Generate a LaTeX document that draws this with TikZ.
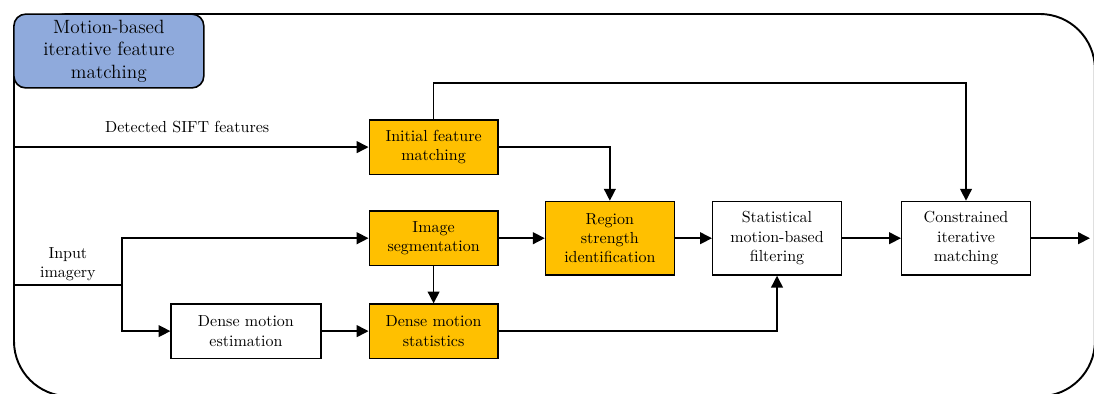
\documentclass[tikz,border=0pt]{standalone}
\usepackage{tikz}
\usetikzlibrary{
  arrows.meta,
  positioning,
  calc,
}
\definecolor{keyStep}{HTML}{FFC000}
\definecolor{titleBg}{HTML}{8FAADC}
\tikzset{
  stepbox/.style={
    rectangle, draw=black, line width=0.8pt, fill=white,
    minimum width=2.83cm, minimum height=1.19cm, inner sep=2pt,
    align=center, font=\normalsize,
  },
  keybox/.style={
    stepbox, fill=keyStep,
  },
  tallbox/.style={
    minimum height=1.62cm,
  },
  titlebox/.style={
    rectangle, rounded corners=2.6mm, draw=black, line width=1pt,
    fill=titleBg, minimum width=4.17cm, minimum height=1.62cm,
    inner sep=2pt, align=center, font=\large,
  },
  flowArrow/.style={
    -{Triangle[length=2.6mm,width=2.6mm]}, line width=0.9pt,
  },
}

\begin{document}
\begin{tikzpicture}[every node/.style={align=center}]

\useasboundingbox (0,0) rectangle (24.02,-8.65);

% outer frame, runs past the page on the right and bottom
\draw[line width=1.2pt, rounded corners=1.21cm] (0.307,-0.307) rectangle (24.04,-8.70);
\node[titlebox] (title) at (2.39,-1.12) {Motion-based\\iterative feature\\matching};

% processing blocks
\node[keybox]         (initMatch)   at (9.52,-3.23)  {Initial feature\\matching};
\node[keybox]         (imgSeg)      at (9.52,-5.23)  {Image\\segmentation};
\node[keybox]         (denseStats)  at (9.52,-7.27)  {Dense motion\\statistics};
\node[stepbox, minimum width=3.29cm] (denseEst) at (5.40,-7.27) {Dense motion\\estimation};
\node[keybox, tallbox]  (regionStr)   at (13.39,-5.23) {Region\\strength\\identification};
\node[stepbox, tallbox] (statFilter)  at (17.06,-5.23) {Statistical\\motion-based\\filtering};
\node[stepbox, tallbox] (constrMatch) at (21.21,-5.23) {Constrained\\iterative\\matching};

% inputs and output
\coordinate (siftIn)  at (0.307,-3.23);
\coordinate (imgIn)   at (0.307,-6.26);
\coordinate (split)   at (2.68,-6.26);
\coordinate (overTop) at (0,-1.82);
\coordinate (out)     at (23.93,-5.23);

\node (siftLbl) at (4.11,-2.79) {Detected SIFT features};
\node (imgLbl)  at (1.49,-5.80) {Input\\imagery};

\draw[flowArrow] (siftIn) -- (initMatch.west);
\draw[flowArrow] (imgIn) -- (split) |- (imgSeg.west);
\draw[flowArrow] (imgIn) -- (split) |- (denseEst.west);
\draw[flowArrow] (denseEst) -- (denseStats);
\draw[flowArrow] (imgSeg) -- (denseStats);
\draw[flowArrow] (imgSeg) -- (regionStr);
\draw[flowArrow] (initMatch.east) -| (regionStr.north);
\draw[flowArrow] (initMatch.north) -- (initMatch.north |- overTop) -| (constrMatch.north);
\draw[flowArrow] (regionStr) -- (statFilter);
\draw[flowArrow] (statFilter) -- (constrMatch);
\draw[flowArrow] (denseStats.east) -| (statFilter.south);
\draw[flowArrow] (constrMatch.east) -- (out);

\end{tikzpicture}
\end{document}
